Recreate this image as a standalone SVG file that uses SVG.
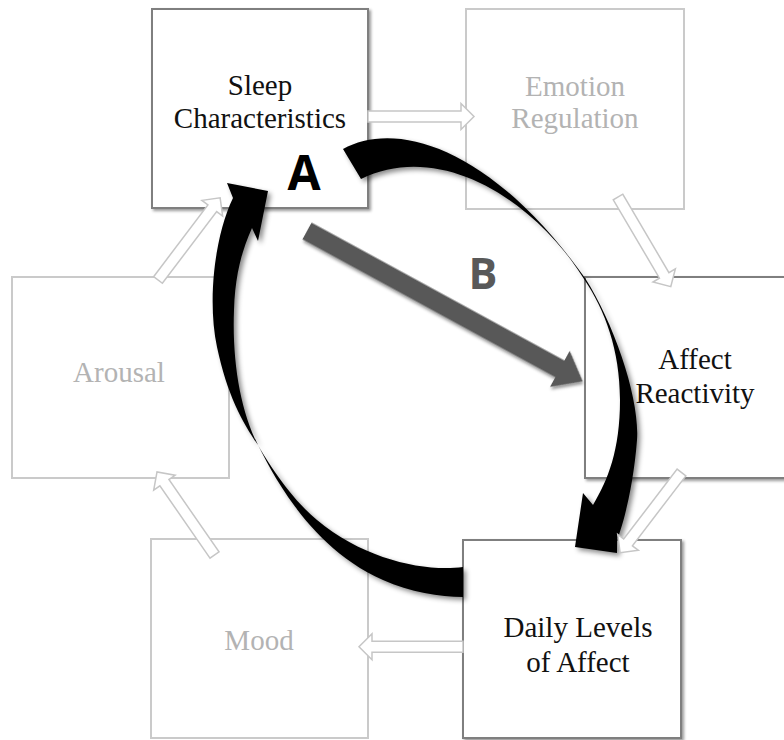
<svg xmlns="http://www.w3.org/2000/svg" width="784" height="740" viewBox="0 0 784 740">
<style>
.box-dark{fill:#fff;stroke:#7f7f7f;stroke-width:2}
.box-light{fill:#fff;stroke:#cacaca;stroke-width:2}
.t{font-family:"Liberation Serif","Times New Roman",serif;font-size:29px;text-anchor:middle}
.t-dark{fill:#111}
.t-light{fill:#b3b3b3}
.hollow{fill:#fff;stroke:#c6c6c6;stroke-width:1.5}
.black{fill:#000}
.lbl{font-family:"Open Sans","Liberation Sans",sans-serif;font-weight:bold;text-anchor:middle}
</style>
<defs>
<filter id="sh" x="-10%" y="-10%" width="125%" height="125%"><feDropShadow dx="2" dy="2" stdDeviation="1.5" flood-color="#000" flood-opacity="0.4"/></filter>
<filter id="sh2" x="-20%" y="-20%" width="140%" height="140%"><feDropShadow dx="3" dy="3" stdDeviation="2.5" flood-color="#000" flood-opacity="0.45"/></filter>
</defs>
<rect width="784" height="740" fill="#fff"/>

<g id="arousal">
<rect class="box-light" x="12" y="277" width="217" height="201"/>
<text class="t t-light" x="119" y="382">Arousal</text>
</g>
<g id="emotion-regulation">
<rect class="box-light" x="466" y="9" width="218" height="200"/>
<text class="t t-light" x="575" y="96">Emotion</text>
<text class="t t-light" x="575" y="128">Regulation</text>
</g>
<g id="mood">
<rect class="box-light" x="151" y="539" width="217" height="199"/>
<text class="t t-light" x="259" y="650">Mood</text>
</g>
<g id="sleep-characteristics">
<rect class="box-dark" x="152" y="9" width="216" height="199" filter="url(#sh)"/>
<text class="t t-dark" x="260" y="95">Sleep</text>
<text class="t t-dark" x="260" y="128">Characteristics</text>
</g>
<g id="affect-reactivity">
<rect class="box-dark" x="585" y="277" width="222" height="201" filter="url(#sh)"/>
<text class="t t-dark" x="695" y="369">Affect</text>
<text class="t t-dark" x="695" y="403">Reactivity</text>
</g>
<g id="daily-levels">
<rect class="box-dark" x="463" y="540" width="218" height="198" filter="url(#sh)"/>
<text class="t t-dark" x="578" y="637">Daily Levels</text>
<text class="t t-dark" x="578" y="672">of Affect</text>
</g>

<g id="connectors">
<polygon class="hollow" transform="translate(368,116.5)" points="0,-5.5 93,-5.5 93,-13 106,0 93,13 93,5.5 0,5.5"/>
<polygon class="hollow" transform="translate(618,197) rotate(59.5)" points="0,-5.5 91,-5.5 91,-13 104,0 91,13 91,5.5 0,5.5"/>
<polygon class="hollow" transform="translate(463,646.7) rotate(180)" points="0,-5.5 91,-5.5 91,-13 104,0 91,13 91,5.5 0,5.5"/>
<polygon class="hollow" transform="translate(214.5,555) rotate(235.3)" points="0,-5.5 88,-5.5 88,-13 101,0 88,13 88,5.5 0,5.5"/>
<polygon class="hollow" transform="translate(158,280) rotate(-52.9)" points="0,-5.5 90,-5.5 90,-13 103,0 90,13 90,5.5 0,5.5"/>

<path class="black" filter="url(#sh2)" d="M343,149 C395,120 490,145 585,278 C615,325 640,400 637,440 C634,480 625,520 617,540 L617,553 L575,547 L583,493 L593,505 C608,480 620,450 620,400 C620,350 605,310 584,279 C535,200 440,140 361,179 Z"/>
<path class="black" filter="url(#sh2)" d="M463,567 C425,572 365,560 317,520 C295,502 272,470 258,445 C240,410 232,360 234,310 C235,275 242,250 252,228 L258,241 L268,191 L227,183 L233,198 C215,235 207,300 217,347 C227,394 242,422 258,445 C278,485 315,550 383,580 C410,592 440,597 463,597 Z"/>

<polygon class="hollow" transform="translate(681.5,472.5) rotate(127.4)" points="0,-5.5 88,-5.5 88,-13 101,0 88,13 88,5.5 0,5.5"/>

<polygon fill="#595959" filter="url(#sh)" transform="translate(307,231) rotate(28.6)" points="0,-9.5 288,-9.5 288,-20.5 314,0 288,20.5 288,9.5 0,9.5"/>
</g>

<text class="lbl" x="304" y="190" font-size="48" fill="#000">A</text>
<text class="lbl" x="483" y="289" font-size="43" fill="#595959">B</text>
</svg>
